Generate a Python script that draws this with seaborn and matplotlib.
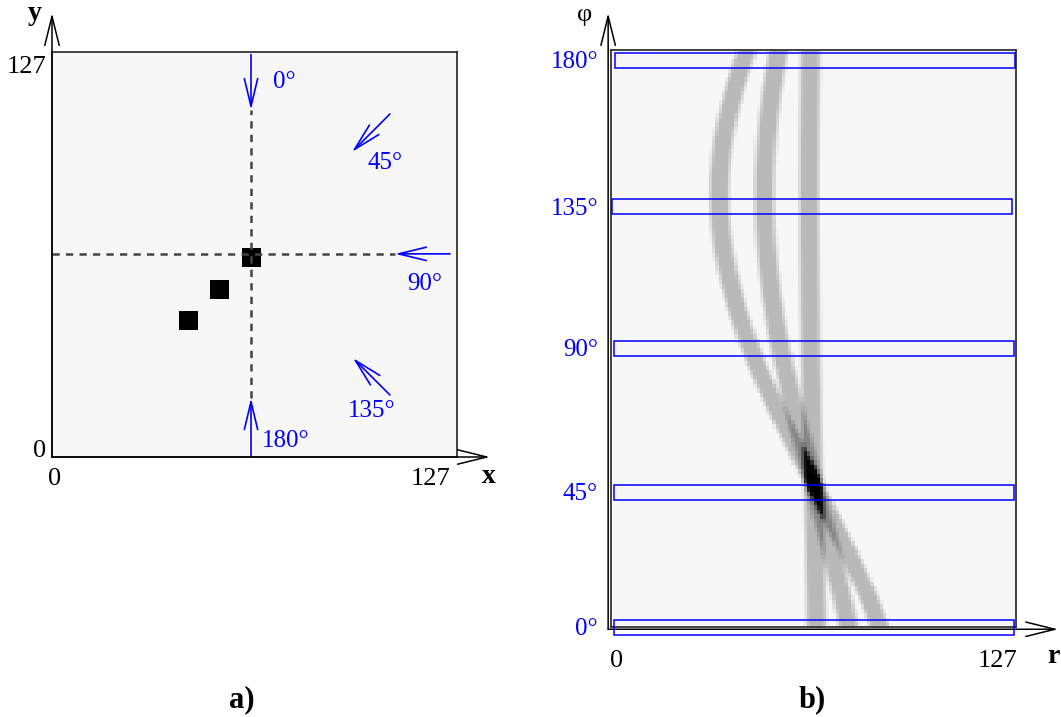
import numpy as np
import matplotlib
matplotlib.use('Agg')
import matplotlib.pyplot as plt
import seaborn as sns
from matplotlib.colors import ListedColormap, LinearSegmentedColormap
from matplotlib.patches import Rectangle

# Dados: três quadrados 6x6 numa imagem 128x128 (canto inferior esquerdo, em pixels)
square_x = [40, 50, 60]
square_y = [40, 50, 60]
square_size = 6
img_size = 128
n_angles = 128
angle_labels = ['0°', '45°', '90°', '135°', '180°']
tick_labels = ['0', '127']

plt.rcParams['font.family'] = ['Liberation Serif', 'DejaVu Serif']
BLUE = '#0000ff'

# Imagem do objeto
img = np.zeros((img_size, img_size))
for x, y in zip(square_x, square_y):
    img[y:y + square_size, x:x + square_size] = 1

# Sinograma (projeções dos quadrados para cada ângulo), bordas suavizadas
c = img_size / 2
phi = np.deg2rad((np.arange(n_angles) + 0.5) * 180 / n_angles)
r = np.arange(img_size) + 0.5
ramp = 1.8
sino = np.zeros((n_angles, img_size))
for x, y in zip(square_x, square_y):
    xc, yc = x + square_size / 2, y + square_size / 2
    rc = c - (xc - c) * np.cos(phi) + (yc - c) * np.sin(phi)
    dist = np.abs(r[None, :] - rc[:, None])
    sino += np.clip((square_size / 2 + ramp / 2 - dist) / ramp, 0, 1)

fig = plt.figure(figsize=(10.61, 7.17), dpi=100)
ax1 = fig.add_axes([52 / 1061, 1 - 457 / 717, 405 / 1061, 405 / 717])
ax2 = fig.add_axes([611 / 1061, 1 - 627 / 717, 405 / 1061, 577 / 717])

# ---- painel a) ----
sns.heatmap(img, ax=ax1, cmap=ListedColormap(['#f7f7f7', 'black']), vmin=0, vmax=1,
            cbar=False, xticklabels=False, yticklabels=False)
ax1.set_ylim(0, img_size)
for sp in ax1.spines.values():
    sp.set_visible(True)
    sp.set_color('#222222')
    sp.set_linewidth(1.2)

ax1.plot([62.9, 62.9], [18.6, 109.7], color='#444444', lw=1.8, dashes=(2.9, 2.5))
ax1.plot([0, 108.4], [64.2, 64.2], color='#444444', lw=1.8, dashes=(2.9, 2.5))

# setas azuis (cauda, ponta) e rótulos (posição de layout)
arrows = [((62.9, 127.2), (62.9, 109.7)), ((106.8, 108.4), (94.8, 96.4)),
          ((125.8, 64.2), (108.4, 64.2)), ((106.8, 19.6), (95.1, 31.3)),
          ((62.9, 0.3), (62.9, 18.6))]
label_pos = [(73.5, 116.5), (105.4, 91.0), (117.9, 52.8), (101.0, 12.5), (74.0, 3.3)]
for (tail, tip), lab, pos in zip(arrows, angle_labels, label_pos):
    ax1.annotate('', xy=tip, xytext=tail,
                 arrowprops=dict(arrowstyle='->,head_length=1.0,head_width=0.24',
                                 color=BLUE, lw=1.2, shrinkA=0, shrinkB=0, mutation_scale=20))
    ax1.text(pos[0], pos[1], lab, color=BLUE, fontsize=18, ha='center', va='baseline')

axis_arrow = dict(arrowstyle='->,head_length=1.05,head_width=0.26', color='black',
                  lw=1.1, shrinkA=0, shrinkB=0, mutation_scale=20)
ax1.annotate('', xy=(0, 140.3), xytext=(0, 0), arrowprops=axis_arrow, annotation_clip=False)
ax1.annotate('', xy=(138.4, 0), xytext=(0, 0), arrowprops=axis_arrow, annotation_clip=False)
ax1.text(-3.9, 0.1, tick_labels[0], fontsize=19, ha='center', va='baseline')
ax1.text(-1.8, 121.5, tick_labels[1], fontsize=19, ha='right', va='baseline')
ax1.text(0.85, -8.8, tick_labels[0], fontsize=19, ha='center', va='baseline')
ax1.text(119.6, -8.8, tick_labels[1], fontsize=19, ha='center', va='baseline')
ax1.text(138.1, -8.2, 'x', fontsize=20, fontweight='bold', ha='center', va='baseline')
ax1.text(-5.5, 138.0, 'y', fontsize=20, fontweight='bold', ha='center', va='baseline')

# ---- painel b) ----
cmap_sino = LinearSegmentedColormap.from_list(
    'sino', [(0, '#f7f7f7'), (1 / 3, '#b9b9b9'), (2 / 3, '#858585'),
             (0.85, '#3a3a3a'), (1, '#000000')])
sns.heatmap(sino, ax=ax2, cmap=cmap_sino, vmin=0, vmax=3,
            cbar=False, xticklabels=False, yticklabels=False)
ax2.set_ylim(0, n_angles)
for sp in ax2.spines.values():
    sp.set_visible(True)
    sp.set_color('#333333')
    sp.set_linewidth(1.3)

# faixas azuis nos ângulos marcados (layout: x0, centro, rótulo)
band_x0 = [1.0, 1.0, 1.0, 0.3, 1.3]
band_row = [-0.1, 29.85, 61.75, 93.25, 125.65]
label_row = [-1.8, 28.2, 60.1, 91.5, 123.9]
for lab, x0, yc, yl in zip(angle_labels, band_x0, band_row, label_row):
    ax2.add_patch(Rectangle((x0, yc - 1.65), 126.4, 3.3, fill=False, edgecolor=BLUE,
                            lw=1.1, clip_on=False, zorder=5))
    ax2.text(-4.1, yl, lab, color=BLUE, fontsize=18, ha='right', va='baseline')

ax2.annotate('', xy=(-0.9, 136.2), xytext=(-0.9, -0.5), arrowprops=axis_arrow,
             annotation_clip=False)
ax2.annotate('', xy=(141.3, -0.5), xytext=(-0.9, -0.5), arrowprops=axis_arrow,
             annotation_clip=False)
ax2.text(1.9, -8.9, tick_labels[0], fontsize=19, ha='center', va='baseline')
ax2.text(122.3, -8.9, tick_labels[1], fontsize=19, ha='center', va='baseline')
ax2.text(139.7, -8.0, 'r', fontsize=20, fontweight='bold', ha='center', va='baseline')
ax2.text(-8.3, 134.4, 'φ', fontsize=19, ha='center', va='baseline')

fig.text(242 / 1061, 1 - 707 / 717, 'a)', fontsize=22, fontweight='bold', ha='center', va='baseline')
fig.text(812 / 1061, 1 - 707 / 717, 'b)', fontsize=22, fontweight='bold', ha='center', va='baseline')

fig.savefig('out.png', dpi=100)
